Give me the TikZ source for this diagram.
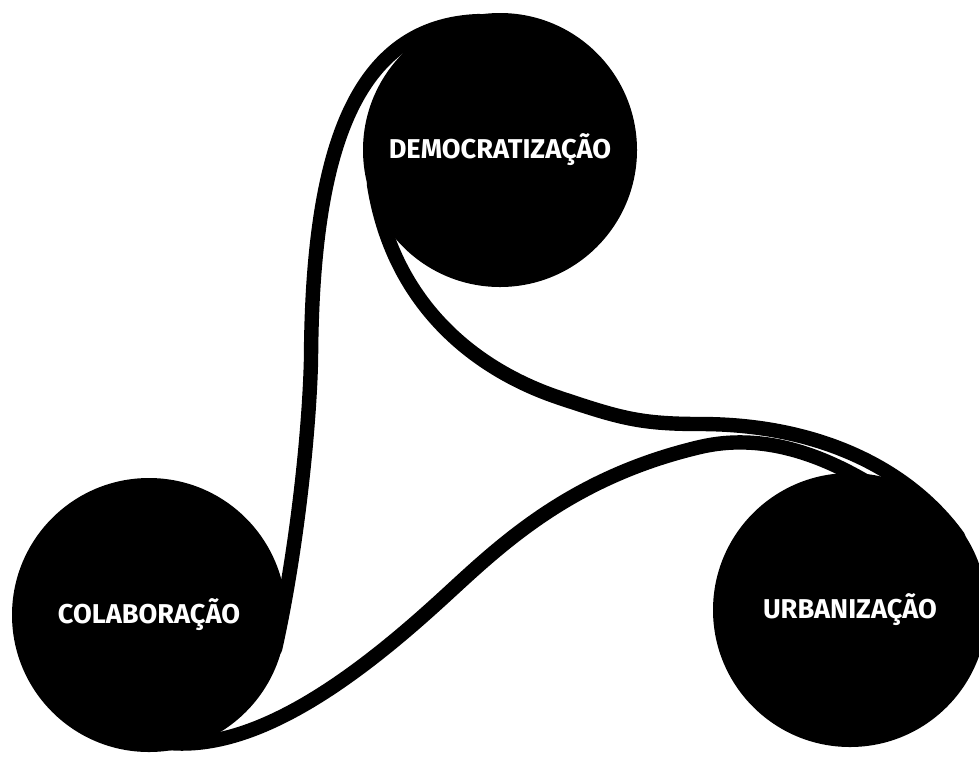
\documentclass[tikz,border=0pt]{standalone}
\usepackage{fontspec}
\setmainfont{Fira Sans}
\usetikzlibrary{calc}
\begin{document}
\begin{tikzpicture}[x=0.5pt,y=-0.5pt,
		hub/.style={circle,fill=black,inner sep=0pt,minimum size=137pt,text=white,font=\fontsize{13.6}{15}\selectfont\bfseries},
		band/.style={line width=7.2pt,line cap=round}]
		\useasboundingbox (0,0) rectangle (979,762);
		\foreach \n/\x/\y/\t in {democ/500/150/DEMOCRATIZAÇÃO,colab/149/615/COLABORAÇÃO,urban/850/610/URBANIZAÇÃO}{
			\node[hub] (\n) at (\x,\y) {\t};
		}
		\draw[band] ($(colab.center)!.95!(colab.-15)$) .. controls (295,560) and (309,440) .. (311,360) .. controls (312,150) and (355,25) .. ($(democ.center)!.95!(democ.99)$);
		\draw[band] ($(democ.center)!.95!(democ.195)$) .. controls (392,300) and (470,368) .. (560,398) .. controls (620,418) and (640,424) .. (700,424) .. controls (820,424) and (910,470) .. ($(urban.center)!.95!(urban.34)$);
		\draw[band] ($(colab.center)!.9!(colab.-92)$) .. controls (230,762) and (330,700) .. (433,607) .. controls (490,556) and (560,480) .. (700,447) .. controls (760,433) and (820,452) .. ($(urban.center)!.9!(urban.76)$);
	\end{tikzpicture}
\end{document}
